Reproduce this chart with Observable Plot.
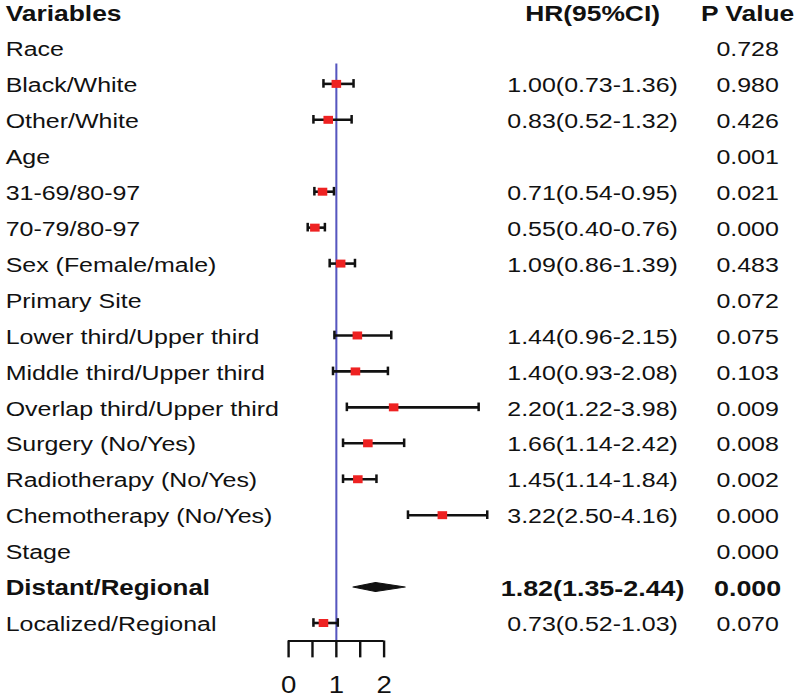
<!DOCTYPE html>
<html>
<head>
<meta charset="utf-8">
<script src="https://cdn.jsdelivr.net/npm/d3@7"></script>
<script src="https://cdn.jsdelivr.net/npm/@observablehq/plot@0.6"></script>
<style>
  html, body { margin: 0; padding: 0; background: #fff; }
  #chart svg { display: block; }
</style>
</head>
<body>
<div id="chart"></div>
<script>
// ---- data ----
const labels = ["Race", "Black/White", "Other/White", "Age", "31-69/80-97", "70-79/80-97",
  "Sex (Female/male)", "Primary Site", "Lower third/Upper third", "Middle third/Upper third",
  "Overlap third/Upper third", "Surgery (No/Yes)", "Radiotherapy (No/Yes)", "Chemotherapy (No/Yes)",
  "Stage", "Distant/Regional", "Localized/Regional"];
const hr    = [null, 1.00, 0.83, null, 0.71, 0.55, 1.09, null, 1.44, 1.40, 2.20, 1.66, 1.45, 3.22, null, 1.82, 0.73];
const lower = [null, 0.73, 0.52, null, 0.54, 0.40, 0.86, null, 0.96, 0.93, 1.22, 1.14, 1.14, 2.50, null, 1.35, 0.52];
const upper = [null, 1.36, 1.32, null, 0.95, 0.76, 1.39, null, 2.15, 2.08, 3.98, 2.42, 1.84, 4.16, null, 2.44, 1.03];
const pvals = ["0.728", "0.980", "0.426", "0.001", "0.021", "0.000", "0.483", "0.072", "0.075",
  "0.103", "0.009", "0.008", "0.002", "0.000", "0.000", "0.000", "0.070"];
const summaryRows = ["Distant/Regional"];
const headers = ["Variables", "HR(95%CI)", "P Value"];
const axisTicks = [0, 0.5, 1, 1.5, 2];
const axisLabels = [0, 1, 2];
const refValue = 1;

// ---- table ----
const rows = labels.map((label, i) => ({
  row: i + 1,
  label,
  hr: hr[i], lo: lower[i], hi: upper[i],
  p: pvals[i],
  summary: summaryRows.includes(label),
  hrText: hr[i] == null ? "" : `${hr[i].toFixed(2)}(${lower[i].toFixed(2)}-${upper[i].toFixed(2)})`
}));
const normalRows = rows.filter(d => !d.summary);
const boldRows = rows.filter(d => d.summary);
const est = rows.filter(d => d.hr != null);
const plain = est.filter(d => !d.summary);
const summ = est.filter(d => d.summary);
const diamond = summ.flatMap(d => [
  {x: d.lo, y: d.row, k: d.label},
  {x: d.hr, y: d.row - 0.125, k: d.label},
  {x: d.hi, y: d.row, k: d.label},
  {x: d.hr, y: d.row + 0.125, k: d.label},
  {x: d.lo, y: d.row, k: d.label}
]);
const lastRow = rows.length;
const axisRow = lastRow + 0.5;

const S = 1.2;                // horizontal stretch of the original figure
const W = 800 / S, H = 698;
const font = "'Liberation Sans', Arial, sans-serif";
const colLabel = 4.2, colHR = 592 / S, colP = 747 / S;

const textCols = (data, size, weight) => [
  Plot.text(data, {frameAnchor: "left", dx: colLabel, y: "row", dy: 1.5, text: "label", textAnchor: "start",
    fontSize: weight === "bold" ? 21.6 : size, fontWeight: weight, fill: "#111"}),
  Plot.text(data, {frameAnchor: "left", dx: colHR, y: "row", dy: 1.5, text: "hrText", textAnchor: "middle",
    fontSize: size, fontWeight: weight, fill: "#111"}),
  Plot.text(data, {frameAnchor: "left", dx: colP, y: "row", dy: 1.5, text: "p", textAnchor: "middle",
    fontSize: size, fontWeight: weight, fill: "#111"})
];

const chart = Plot.plot({
  width: W, height: H, margin: 0,
  style: {fontFamily: font, background: "#fff"},
  x: {domain: [0, 2], range: [288 / S, 383.5 / S], axis: null},
  y: {domain: [0, lastRow], range: [11.5, 622.5], axis: null},
  marks: [
    // header
    Plot.text([headers[0]], {frameAnchor: "left", dx: colLabel, y: () => 0, dy: 1.5, text: d => d, fontSize: 22, fontWeight: "bold", textAnchor: "start", fill: "#111"}),
    Plot.text([headers[1]], {frameAnchor: "left", dx: colHR, y: () => 0, dy: 1.5, text: d => d, fontSize: 22, fontWeight: "bold", textAnchor: "middle", fill: "#111"}),
    Plot.text([headers[2]], {frameAnchor: "left", dx: colP, y: () => 0, dy: 1.5, text: d => d, fontSize: 22, fontWeight: "bold", textAnchor: "middle", fill: "#111"}),
    // row texts
    ...textCols(normalRows, 20.8, "normal"),
    ...textCols(boldRows, 22.4, "bold"),
    // reference line
    Plot.ruleX([refValue], {x: d => d, y1: 1.45, y2: axisRow, stroke: "#5656bf", strokeWidth: 1.7}),
    // CI whiskers
    Plot.ruleY(plain, {y: "row", x1: "lo", x2: "hi", stroke: "#111", strokeWidth: 2.6}),
    Plot.ruleX(plain, {x: "lo", y1: d => d.row - 0.12, y2: d => d.row + 0.12, stroke: "#111", strokeWidth: 2.1}),
    Plot.ruleX(plain, {x: "hi", y1: d => d.row - 0.12, y2: d => d.row + 0.12, stroke: "#111", strokeWidth: 2.1}),
    // point estimates
    Plot.dot(plain, {x: "hr", y: "row", symbol: "square", r: 4.5, fill: "#ee2222", stroke: "none"}),
    // summary diamond
    Plot.line(diamond, {x: "x", y: "y", z: "k", fill: "#111", stroke: "#111", strokeWidth: 1, curve: "linear"}),
    // axis
    Plot.ruleY([axisRow], {y: d => d, x1: axisTicks[0], x2: axisTicks[axisTicks.length - 1], stroke: "#111", strokeWidth: 2}),
    Plot.ruleX(axisTicks, {x: d => d, y1: axisRow, y2: axisRow + 0.47, stroke: "#111", strokeWidth: 2}),
    Plot.text(axisLabels, {x: d => d, y: () => axisRow + 1.25, text: d => String(d), fontSize: 23, fill: "#111", ariaLabel: "axis-labels"})
  ]
});

chart.setAttribute("width", 800);
chart.setAttribute("height", H);
chart.setAttribute("preserveAspectRatio", "none");
chart.style.width = "800px";
chart.style.height = H + "px";
chart.style.maxWidth = "none";

// undo the horizontal stretch for the axis numbers, which are not stretched in the original
d3.select(chart).selectAll('g[aria-label="axis-labels"] text').each(function() {
  const t = this.getAttribute("transform");
  if (t) this.setAttribute("transform", t + ` scale(${1 / S},1)`);
  else {
    const x = +this.getAttribute("x") || 0;
    this.setAttribute("transform", `translate(${x},0) scale(${1 / S},1) translate(${-x},0)`);
  }
});

document.getElementById("chart").appendChild(chart);
</script>
</body>
</html>
